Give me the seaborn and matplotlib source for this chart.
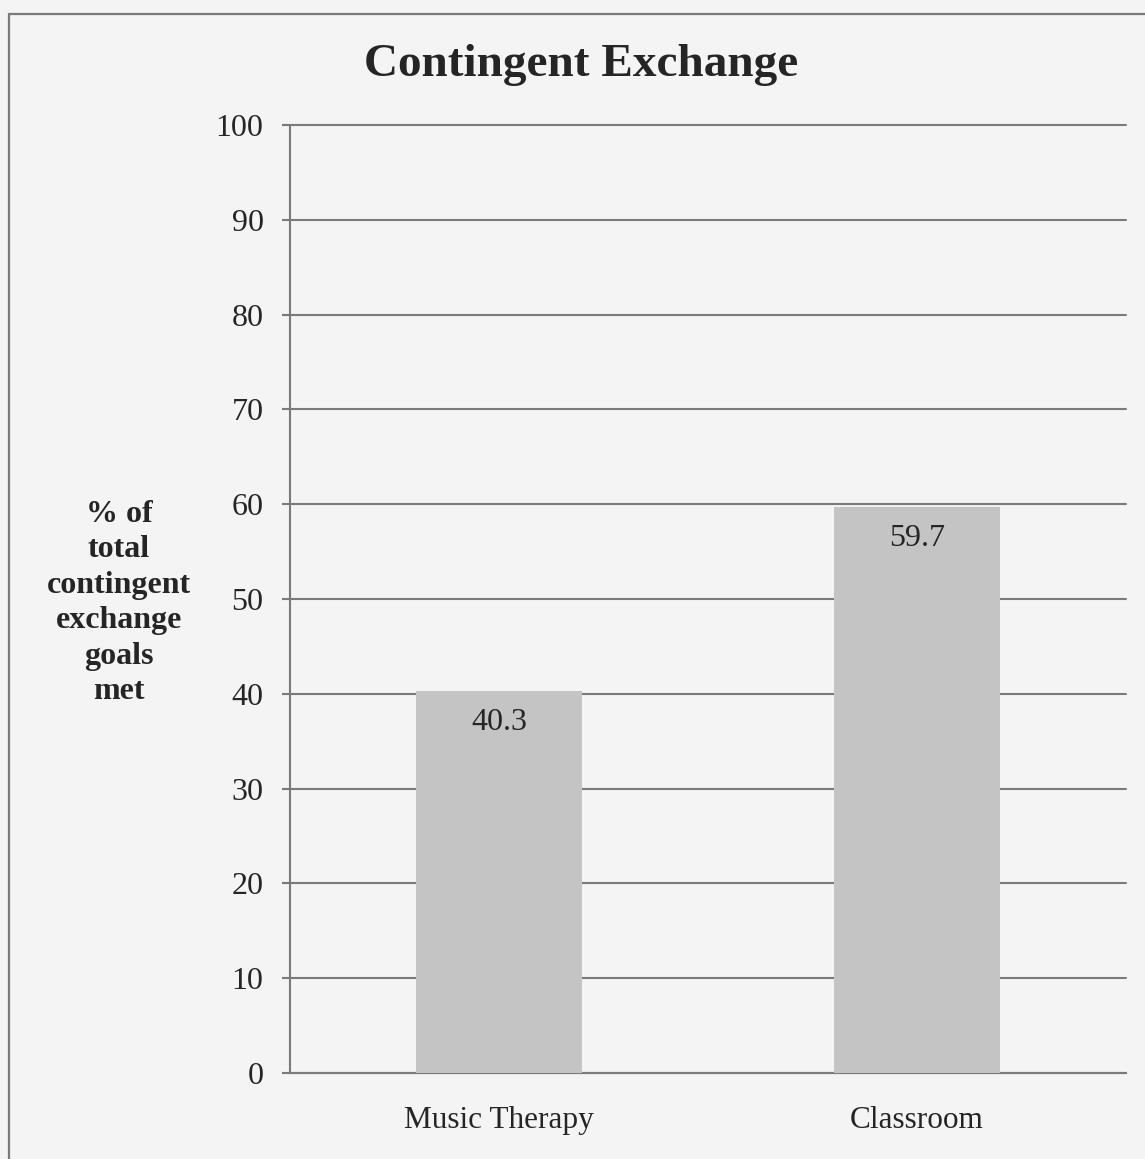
import matplotlib
matplotlib.use("Agg")
import matplotlib.pyplot as plt
from matplotlib.patches import Rectangle
import seaborn as sns
import pandas as pd

settings = ["Music Therapy", "Classroom"]
percent_met = [40.3, 59.7]
y_ticks = [0, 10, 20, 30, 40, 50, 60, 70, 80, 90, 100]

sns.set_theme(style="white")
plt.rcParams["font.family"] = ["Liberation Serif", "DejaVu Serif"]

bg = "#f4f4f4"
line_col = "#7a7a7a"
bar_col = "#c4c4c4"
text_col = "#252525"

W, H = 1145, 1159
fig = plt.figure(figsize=(W / 100, H / 100), dpi=100, facecolor=bg)
ax = fig.add_axes([290 / W, 1 - 1073 / H, (1126 - 290) / W, (1073 - 125) / H])
ax.set_facecolor(bg)

df = pd.DataFrame({"setting": settings, "pct": percent_met})
sns.barplot(data=df, x="setting", y="pct", color=bar_col, width=0.395,
            saturation=1, ax=ax, zorder=3, edgecolor="none")

ax.set_ylim(0, 100)
ax.set_xlim(-0.5, 1.5)
ax.set_yticks(y_ticks)
ax.set_yticklabels([str(t) for t in y_ticks], fontsize=23, color=text_col)
ax.set_xticks([-0.5, 0.5, 1.5], minor=False)
ax.set_xticklabels([])
ax.set_xticks([0, 1], minor=True)
ax.set_xticklabels(settings, minor=True, fontsize=22.5, color=text_col)
ax.tick_params(axis="x", which="minor", length=0, pad=24)
ax.tick_params(axis="x", which="major", length=6, width=1.5, color=line_col, direction="out")
ax.tick_params(axis="y", length=6, width=1.5, color=line_col, direction="out", pad=13, left=True)

ax.yaxis.grid(True, color=line_col, linewidth=1.5, zorder=0)
for gl in ax.get_ygridlines():
    gl.set_clip_on(False)
ax.set_axisbelow(True)
for side in ["top", "right"]:
    ax.spines[side].set_visible(False)
for side in ["left", "bottom"]:
    ax.spines[side].set_color(line_col)
    ax.spines[side].set_linewidth(1.5)
ax.set_xlabel("")
ax.set_ylabel("")

# value labels just inside the top of each bar
for i, v in enumerate(percent_met):
    ax.annotate(f"{v}", xy=(i, v), xytext=(0, -23), textcoords="offset points",
                ha="center", va="center", fontsize=23, color=text_col, zorder=4)

fig.text(581 / W, 1 - 65 / H, "Contingent Exchange", ha="center", va="center",
         fontsize=34, fontweight="bold", color=text_col)

fig.text(119 / W, 1 - 603 / H, "% of\ntotal\ncontingent\nexchange\ngoals\nmet",
         ha="center", va="center", fontsize=23, fontweight="bold",
         color=text_col, linespacing=1.29)

# outer frame of the chart area
fig.patches.append(Rectangle((9 / W, -0.05), 1.2, 1 - 14 / H + 0.05,
                             transform=fig.transFigure, fill=False,
                             edgecolor=line_col, linewidth=1.6))

fig.savefig("out.png", dpi=100, facecolor=bg)
